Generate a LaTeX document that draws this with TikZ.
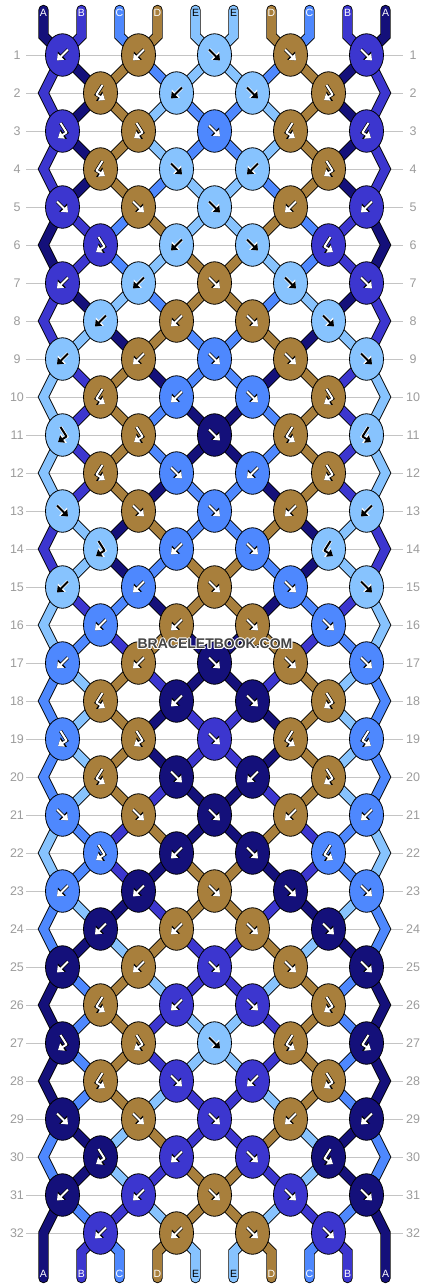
\documentclass[tikz,border=0pt]{standalone}
\usepackage{fontspec}
\setmainfont{Liberation Sans}
\usetikzlibrary{shapes.geometric, arrows.meta}

\definecolor{colA}{HTML}{14107A}
\definecolor{colB}{HTML}{3C36CF}
\definecolor{colC}{HTML}{4E88FE}
\definecolor{colD}{HTML}{A87F3C}
\definecolor{colE}{HTML}{87C3FE}
\definecolor{rowgray}{HTML}{C4C4C4}
\definecolor{numgray}{HTML}{9C9C9C}
\definecolor{markgray}{HTML}{444444}

\pgfdeclarelayer{paper}
\pgfdeclarelayer{threads}
\pgfsetlayers{paper,threads,main}

\tikzset{
  knot/.style={ellipse, draw=black, line width=0.8pt, minimum width=34pt, minimum height=42.5pt, inner sep=0pt},
  thread/.style={draw=black, line width=0.9pt, double=#1, double distance=8.6pt, line cap=round},
  glyph/.style 2 args={draw=#1, line width=2pt, line join=round, -{Triangle[length=5.5pt,width=8.5pt]},
    preaction={draw=#2, line width=3.4pt, -{Triangle[length=7pt,width=11pt]}}},
  rowline/.style={draw=rowgray, line width=0.9pt},
  rownum/.style={text=numgray, font=\fontsize{12.5}{12.5}\selectfont, inner sep=0pt},
  endlabel/.style={font=\fontsize{10.5}{10.5}\selectfont, inner sep=0pt},
  watermark/.style={font=\fontsize{14}{14}\selectfont\bfseries, inner sep=0pt},
}

\begin{document}
\begin{tikzpicture}[x=1pt, y=-1pt]
\useasboundingbox (0,0) rectangle (430,1288);
\begin{pgfonlayer}{paper}
  \fill[white] (0,0) rectangle (430,1288);
\end{pgfonlayer}

% row guides and numbers
\foreach \r in {1,...,32}{
  \pgfmathsetmacro\y{55+38*(\r-1)}
  \begin{pgfonlayer}{threads}
    \draw[rowline] (26,\y) -- (403,\y);
  \end{pgfonlayer}
  \node[rownum] (numL\r) at (17,\y) {\r};
  \node[rownum] (numR\r) at (413,\y) {\r};
}

% strand ends at the top
\foreach \c [count=\p] in {A,B,C,D,E,E,D,C,B,A}{
  \expandafter\xdef\csname pos\p\endcsname{\c}
  \pgfmathsetmacro\xs{43.5+38*(\p-1)}
  \coordinate (top\p) at (\xs,10);
  \coordinate (bend\p) at (\xs,36);
  \if\c E\def\lc{black}\else\def\lc{white}\fi
  \node[endlabel, text=\lc] (labT\p) at (\xs,13) {\c};
}

% knots: f forward, b backward, F forward-backward, B backward-forward
\foreach \rep in {0,...,3}{
 \foreach \m/\kl in {1/{b,b,f,f,f},2/{B,b,f,F},3/{F,F,f,B,B},4/{B,f,b,F},
                     5/{f,f,f,b,b},6/{F,b,f,B},7/{b,b,f,f,f},8/{b,b,f,f}}{
  \pgfmathtruncatemacro\r{8*\rep+\m}
  \pgfmathtruncatemacro\rp{\r-1}
  \pgfmathtruncatemacro\rpp{\r-2}
  \pgfmathsetmacro\y{55+38*(\r-1)}
  \ifodd\r\else
    \coordinate (edgeL\r) at (43.5,\y);
    \coordinate (edgeR\r) at (385.5,\y);
  \fi
  \foreach \kind [count=\k] in \kl {
    \ifodd\r \pgfmathtruncatemacro\p{2*\k-1}\else \pgfmathtruncatemacro\p{2*\k}\fi
    \pgfmathtruncatemacro\q{\p+1}
    \pgfmathtruncatemacro\kp{\k-1}
    \pgfmathtruncatemacro\kn{\k+1}
    \pgfmathsetmacro\x{24.5+38*\p}
    \edef\colL{\csname pos\p\endcsname}
    \edef\colR{\csname pos\q\endcsname}
    \if\kind f\edef\ck{\colL}\else\if\kind F\edef\ck{\colL}\else\edef\ck{\colR}\fi\fi
    \if\ck E\def\gc{black}\def\ge{white}\else\def\gc{white}\def\ge{black}\fi
    \node[knot, fill=col\ck] (k\r-\k) at (\x,\y) {};
    \if\kind f \draw[glyph={\gc}{\ge}] (\x-5.5,\y-5.5) -- (\x+5.5,\y+5.5);\fi
    \if\kind b \draw[glyph={\gc}{\ge}] (\x+5.5,\y-5.5) -- (\x-5.5,\y+5.5);\fi
    \if\kind F \draw[glyph={\gc}{\ge}] (\x-2,\y-8) -- (\x+4,\y+1.5) -- (\x-4.5,\y+7);\fi
    \if\kind B \draw[glyph={\gc}{\ge}] (\x+2,\y-8) -- (\x-4,\y+1.5) -- (\x+4.5,\y+7);\fi
    \begin{pgfonlayer}{threads}
    % thread coming in from the left
    \ifnum\r=1
      \draw[thread=col\colL] (top\p) -- (bend\p) -- (k\r-\k.center);
    \else\ifodd\r
      \ifnum\k=1
        \draw[thread=col\colL] (k\rpp-1.center) -- (edgeL\rp) -- (k\r-\k.center);
      \else
        \draw[thread=col\colL] (k\rp-\kp.center) -- (k\r-\k.center);
      \fi
    \else
      \draw[thread=col\colL] (k\rp-\k.center) -- (k\r-\k.center);
    \fi\fi
    % thread coming in from the right
    \ifnum\r=1
      \draw[thread=col\colR] (top\q) -- (bend\q) -- (k\r-\k.center);
    \else\ifodd\r
      \ifnum\k=5
        \draw[thread=col\colR] (k\rpp-5.center) -- (edgeR\rp) -- (k\r-\k.center);
      \else
        \draw[thread=col\colR] (k\rp-\k.center) -- (k\r-\k.center);
      \fi
    \else
      \draw[thread=col\colR] (k\rp-\kn.center) -- (k\r-\k.center);
    \fi\fi
    \end{pgfonlayer}
    % swap for plain knots
    \if\kind f\def\swap{1}\else\if\kind b\def\swap{1}\else\def\swap{0}\fi\fi
    \ifnum\swap=1
      \expandafter\xdef\csname pos\p\endcsname{\colR}%
      \expandafter\xdef\csname pos\q\endcsname{\colL}%
    \fi
  }
 }
}

% strand ends at the bottom
\foreach \p in {1,...,10}{
  \pgfmathsetmacro\xs{43.5+38*(\p-1)}
  \edef\cb{\csname pos\p\endcsname}
  \coordinate (bot\p) at (\xs,1278);
  \coordinate (bbend\p) at (\xs,1252);
  \begin{pgfonlayer}{threads}
  \ifnum\p=1
    \draw[thread=col\cb] (k31-1.center) -- (edgeL32) -- (bot\p);
  \else\ifnum\p=10
    \draw[thread=col\cb] (k31-5.center) -- (edgeR32) -- (bot\p);
  \else
    \ifodd\p \pgfmathtruncatemacro\kb{(\p-1)/2}\else \pgfmathtruncatemacro\kb{\p/2}\fi
    \draw[thread=col\cb] (k32-\kb.center) -- (bbend\p) -- (bot\p);
  \fi\fi
  \end{pgfonlayer}
  \if\cb E\def\lc{black}\else\def\lc{white}\fi
  \node[endlabel, text=\lc] (labB\p) at (\xs,1274) {\cb};
}

% site mark
\foreach \dx/\dy [count=\w] in {-1/0,1/0,0/-1,0/1,-0.8/-0.8,0.8/0.8,-0.8/0.8,0.8/-0.8}
  \node[watermark, text=white] (halo\w) at (215+\dx,644+\dy) {BRACELETBOOK.COM};
\node[watermark, text=markgray] (mark) at (215,644) {BRACELETBOOK.COM};

\end{tikzpicture}
\end{document}
